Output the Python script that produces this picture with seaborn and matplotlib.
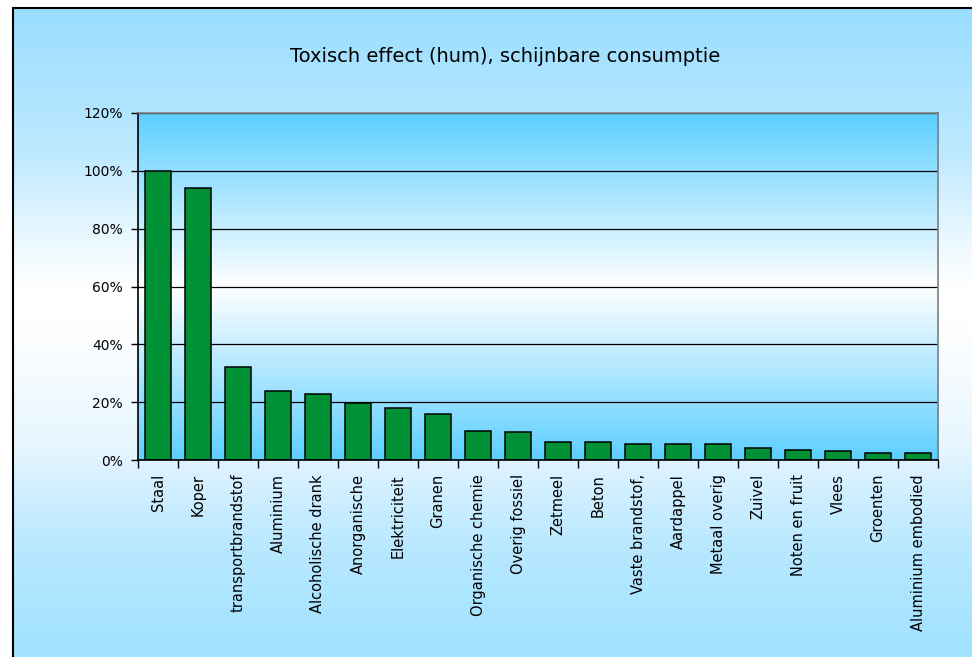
import numpy as np
import pandas as pd
import matplotlib
matplotlib.use("Agg")
import matplotlib.pyplot as plt
from matplotlib.colors import LinearSegmentedColormap
from matplotlib.patches import Rectangle
from matplotlib.ticker import FuncFormatter, FixedLocator
import seaborn as sns

sns.set_theme(style="white")
plt.rcParams['font.family'] = ['DejaVu Sans']
plt.rcParams['text.color'] = 'black'
plt.rcParams['xtick.color'] = 'black'
plt.rcParams['ytick.color'] = 'black'

# data
categories = ["Staal", "Koper", "transportbrandstof", "Aluminium", "Alcoholische drank",
              "Anorganische", "Elektriciteit", "Granen", "Organische chemie", "Overig fossiel",
              "Zetmeel", "Beton", "Vaste brandstof,", "Aardappel", "Metaal overig",
              "Zuivel", "Noten en fruit", "Vlees", "Groenten", "Aluminium embodied"]
share = [100, 94, 32.3, 23.7, 22.7, 19.6, 18, 15.9, 10, 9.7,
         6.2, 6.2, 5.7, 5.7, 5.7, 4.1, 3.6, 3.0, 2.5, 2.5]
yticks = [0, 20, 40, 60, 80, 100, 120]
title = "Toxisch effect (hum), schijnbare consumptie"

df = pd.DataFrame({"cat": categories, "val": share})

W, H = 972, 657
fig = plt.figure(figsize=(W / 100, H / 100), dpi=100, facecolor="white")

# outer chart area: blue at the edges, white band around the middle
outer = LinearSegmentedColormap.from_list("outer", [
    (0.0, "#a0e2ff"), (0.165, "#b8e8ff"), (0.242, "#cdeeff"), (0.319, "#e6f6ff"),
    (0.473, "#fafdff"), (0.519, "#ffffff"), (0.565, "#ffffff"), (0.627, "#f0faff"),
    (0.781, "#bde9ff"), (1.0, "#9adeff")])
bg_pos = [13 / W, 0, 1 - 13 / W, (H - 8) / H]
bg = fig.add_axes(bg_pos, zorder=0)
bg.imshow(np.linspace(1, 0, 512).reshape(-1, 1), cmap=outer, aspect="auto",
          extent=[0, 1, 0, 1], interpolation="bicubic", vmin=0, vmax=1)
bg.set_xlim(0, 1)
bg.set_ylim(0, 1)
bg.axis("off")
fig.patches.append(Rectangle((13 / W, -0.01), 1.0, (H - 8) / H + 0.01, transform=fig.transFigure,
                             fill=False, edgecolor="black", linewidth=1.5, zorder=5))

# plot area
pos = [138 / W, (H - 460) / H, (938 - 138) / W, (460 - 113) / H]
inner = LinearSegmentedColormap.from_list("inner", ["#5dcfff", "#ffffff", "#5dcfff"])
pbg = fig.add_axes(pos, zorder=1)
pbg.imshow(np.linspace(0, 1, 256).reshape(-1, 1), cmap=inner, aspect="auto",
           extent=[0, 1, 0, 1], interpolation="bicubic")
pbg.set_xlim(0, 1)
pbg.set_ylim(0, 1)
pbg.axis("off")

ax = fig.add_axes(pos, zorder=2)
ax.patch.set_alpha(0)
sns.barplot(data=df, x="cat", y="val", color="#009035", saturation=1,
            edgecolor="black", linewidth=1.1, width=0.66, ax=ax)

ax.set_xlim(-0.5, len(categories) - 0.5)
ax.set_ylim(0, 120)
ax.set_yticks(yticks)
ax.yaxis.set_major_formatter(FuncFormatter(lambda v, p: f"{v:.0f}%"))
ax.yaxis.grid(True, color="black", linewidth=0.9)
ax.set_axisbelow(True)

# ticks between categories, labels at centres
ax.xaxis.set_major_locator(FixedLocator(np.arange(-0.5, len(categories), 1)))
ax.xaxis.set_minor_locator(FixedLocator(np.arange(len(categories))))
ax.set_xticklabels([], minor=False)
ax.set_xticklabels(categories, minor=True, rotation=90, fontsize=10.5, color="black")
ax.tick_params(axis="x", which="major", direction="out", length=6, width=1, color="black", bottom=True)
ax.tick_params(axis="x", which="minor", length=0, pad=10)
ax.tick_params(axis="y", direction="out", length=5, width=1, color="black", left=True,
               labelsize=10, labelcolor="black", pad=6)
ax.set_xlabel("")
ax.set_ylabel("")

for s in ["left", "bottom"]:
    ax.spines[s].set_color("black")
    ax.spines[s].set_linewidth(1.2)
for s in ["top", "right"]:
    ax.spines[s].set_color("#808080")
    ax.spines[s].set_linewidth(1.2)

fig.text(505 / W, (H - 57) / H, title, ha="center", va="center", fontsize=14, color="black")

fig.savefig("out.png", dpi=100, facecolor="white")
